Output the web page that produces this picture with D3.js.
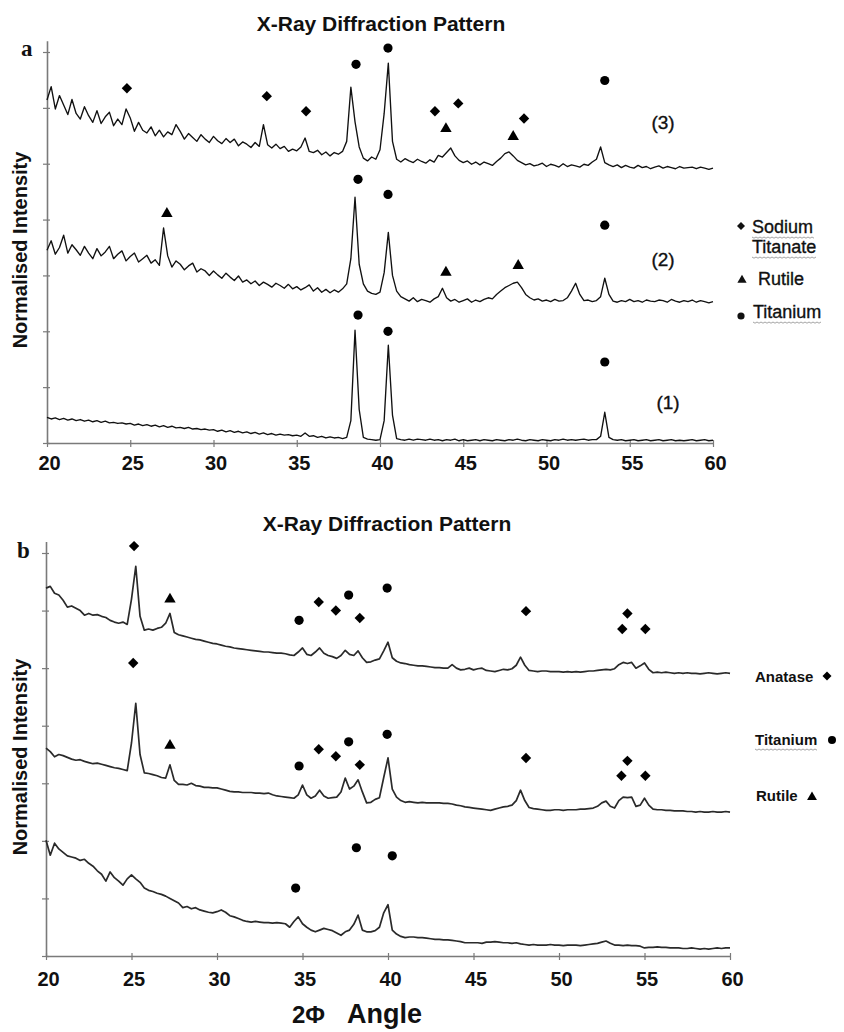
<!DOCTYPE html>
<html>
<head>
<meta charset="utf-8">
<script src="https://cdn.jsdelivr.net/npm/d3@7"></script>
<style>
  body { margin: 0; background: #fff; }
  svg { display: block; }
  text { font-family: "Liberation Sans", Arial, sans-serif; }
</style>
</head>
<body>
<script>
// X-ray diffraction patterns, panel a (sodium titanate) and panel b (anatase)

// angle grid shared by every trace: 20..60 deg in 0.25 deg steps
let angleStart = 20
let angleStep = 0.25
let xTicks = [20, 25, 30, 35, 40, 45, 50, 55, 60]
let yTicks = [0, 1, 2, 3, 4, 5, 6, 7]

// panel a, trace (1)
let a1 = [
  0.46,0.43,0.45,0.42, 0.44,0.41,0.43,0.40, 0.42,0.39,0.41,0.38, 0.40,0.37,0.39,0.36, 0.37,0.35,0.36,0.34,
  0.35,0.32,0.34,0.31, 0.33,0.30,0.32,0.29, 0.31,0.28,0.30,0.27, 0.28,0.26,0.28,0.25, 0.26,0.24,0.25,0.23,
  0.24,0.21,0.23,0.20, 0.22,0.19,0.21,0.18, 0.20,0.17,0.19,0.16, 0.18,0.15,0.17,0.14, 0.16,0.14,0.15,0.13,
  0.14,0.12,0.18,0.12, 0.13,0.10,0.12,0.09, 0.11,0.09,0.10,0.08, 0.10,0.40,2.02,0.60, 0.10,0.07,0.06,0.05,
  0.06,0.40,1.75,0.50, 0.08,0.06,0.05,0.07, 0.05,0.07,0.06,0.05, 0.07,0.05,0.06,0.04, 0.06,0.05,0.07,0.04,
  0.06,0.04,0.05,0.06, 0.04,0.06,0.05,0.04, 0.06,0.05,0.04,0.06, 0.05,0.07,0.05,0.04, 0.06,0.05,0.04,0.06,
  0.05,0.04,0.06,0.05, 0.07,0.05,0.06,0.05, 0.06,0.07,0.05,0.06, 0.06,0.12,0.55,0.10, 0.06,0.05,0.06,0.04,
  0.05,0.06,0.04,0.05, 0.06,0.04,0.05,0.06, 0.04,0.05,0.06,0.04, 0.05,0.04,0.05,0.06, 0.04,0.05,0.06,0.04,
  0.05
]
// panel a, trace (2)
let a2 = [
  3.45,3.62,3.38,3.50, 3.72,3.40,3.55,3.46, 3.36,3.52,3.40,3.30, 3.48,3.35,3.42,3.52, 3.30,3.38,3.44,3.26,
  3.34,3.40,3.24,3.30, 3.36,3.22,3.28,3.18, 3.85,3.35,3.15,3.26, 3.20,3.10,3.17,3.22, 3.06,3.12,3.08,3.00,
  3.08,3.01,2.95,3.04, 2.97,2.91,2.99,2.88, 2.92,2.85,2.90,2.82, 2.88,2.84,2.79,2.86, 2.82,2.77,2.84,2.76,
  2.80,2.74,2.78,2.83, 2.72,2.78,2.70,2.75, 2.69,2.74,2.70,2.76, 2.85,3.30,4.40,3.20, 2.85,2.72,2.68,2.66,
  2.70,3.05,3.77,3.00, 2.72,2.62,2.58,2.54, 2.60,2.53,2.57,2.55, 2.52,2.58,2.62,2.77, 2.60,2.54,2.57,2.52,
  2.55,2.58,2.52,2.56, 2.53,2.57,2.60,2.58, 2.66,2.72,2.78,2.82, 2.86,2.88,2.78,2.66, 2.60,2.56,2.58,2.54,
  2.56,2.53,2.57,2.54, 2.55,2.60,2.72,2.86, 2.66,2.55,2.56,2.53, 2.55,2.62,2.95,2.66, 2.54,2.52,2.55,2.53,
  2.57,2.53,2.55,2.52, 2.56,2.54,2.53,2.56, 2.55,2.52,2.57,2.54, 2.52,2.55,2.53,2.56, 2.52,2.55,2.53,2.51,
  2.53
]
// panel a, trace (3)
let a3 = [
  6.14,6.38,5.98,6.22, 6.05,5.88,6.15,5.90, 5.80,6.02,5.86,5.74, 5.95,5.72,5.84,5.92, 5.68,5.80,5.70,5.98,
  5.82,5.58,5.74,5.60, 5.55,5.66,5.50,5.60, 5.48,5.57,5.52,5.70, 5.58,5.44,5.54,5.47, 5.40,5.52,5.44,5.38,
  5.49,5.41,5.36,5.45, 5.38,5.44,5.32,5.39, 5.35,5.29,5.38,5.31, 5.70,5.34,5.28,5.35, 5.27,5.31,5.22,5.26,
  5.23,5.30,5.46,5.22, 5.20,5.24,5.16,5.21, 5.14,5.20,5.17,5.22, 5.40,6.37,5.75,5.30, 5.10,5.05,5.12,5.08,
  5.25,5.90,6.80,5.40, 5.08,5.03,5.09,5.05, 5.02,5.08,5.04,5.01, 5.07,5.03,5.15,5.12, 5.20,5.28,5.14,5.06,
  5.02,5.05,4.99,5.03, 4.98,5.03,5.00,4.97, 5.04,5.10,5.18,5.21, 5.14,5.06,5.02,4.98, 5.00,4.96,4.98,5.01,
  4.95,4.99,4.97,4.94, 5.00,4.95,4.98,4.96, 4.94,4.99,4.97,5.03, 5.08,5.30,5.02,4.98, 4.95,4.98,4.93,4.97,
  4.94,4.92,4.97,4.93, 4.95,4.91,4.94,4.96, 4.92,4.95,4.93,4.91, 4.95,4.92,4.93,4.94, 4.91,4.94,4.92,4.90,
  4.92
]

// panel b, lowest trace
let b1 = [
  2.01,1.75,1.96,1.86, 1.80,1.74,1.72,1.70, 1.66,1.68,1.61,1.56, 1.48,1.42,1.30,1.46, 1.36,1.30,1.23,1.34,
  1.41,1.34,1.28,1.18, 1.14,1.12,1.09,1.07, 1.04,1.00,0.96,0.92, 0.84,0.86,0.82,0.84, 0.80,0.78,0.76,0.75,
  0.77,0.80,0.76,0.70, 0.68,0.65,0.62,0.60, 0.59,0.60,0.59,0.58, 0.58,0.57,0.58,0.57, 0.56,0.50,0.60,0.68,
  0.56,0.50,0.45,0.42, 0.45,0.48,0.46,0.44, 0.40,0.36,0.42,0.45, 0.55,0.71,0.45,0.42, 0.42,0.44,0.50,0.75,
  0.89,0.45,0.38,0.34, 0.32,0.33,0.33,0.32, 0.32,0.31,0.30,0.29, 0.29,0.28,0.28,0.27, 0.26,0.25,0.23,0.23,
  0.23,0.23,0.22,0.24, 0.24,0.25,0.24,0.23, 0.23,0.22,0.23,0.21, 0.20,0.19,0.20,0.19, 0.19,0.19,0.20,0.19,
  0.19,0.18,0.19,0.19, 0.19,0.18,0.19,0.20, 0.21,0.22,0.24,0.26, 0.22,0.19,0.19,0.18, 0.19,0.18,0.18,0.17,
  0.14,0.15,0.15,0.16, 0.15,0.15,0.14,0.14, 0.14,0.13,0.13,0.14, 0.13,0.12,0.13,0.12, 0.13,0.14,0.13,0.14,
  0.14
]
// panel b, middle trace
let b2 = [
  3.61,3.55,3.46,3.50, 3.48,3.45,3.42,3.40, 3.41,3.38,3.36,3.34, 3.35,3.33,3.31,3.29, 3.27,3.26,3.24,3.22,
  3.70,4.39,3.50,3.18, 3.17,3.15,3.13,3.10, 3.09,3.32,3.05,2.98, 2.98,2.97,3.00,2.96, 2.95,2.93,2.93,2.92,
  2.92,2.90,2.88,2.86, 2.85,2.85,2.84,2.84, 2.84,2.83,2.83,2.82, 2.83,2.80,2.78,2.77, 2.76,2.75,2.74,2.80,
  2.97,2.80,2.74,2.78, 2.88,2.78,2.74,2.75, 2.76,2.85,3.09,2.90, 2.95,3.06,2.85,2.66, 2.67,2.72,2.75,3.10,
  3.44,2.90,2.76,2.70, 2.67,2.68,2.67,2.66, 2.67,2.66,2.66,2.66, 2.66,2.65,2.65,2.64, 2.62,2.61,2.59,2.58,
  2.57,2.56,2.55,2.54, 2.53,2.55,2.57,2.59, 2.60,2.62,2.70,2.88, 2.70,2.58,2.56,2.55, 2.54,2.53,2.53,2.54,
  2.54,2.53,2.54,2.54, 2.54,2.55,2.55,2.56, 2.57,2.60,2.66,2.69, 2.60,2.57,2.70,2.76, 2.75,2.76,2.60,2.62,
  2.74,2.62,2.55,2.54, 2.54,2.53,2.53,2.52, 2.52,2.52,2.51,2.51, 2.50,2.51,2.50,2.50, 2.51,2.50,2.50,2.51,
  2.50
]
// panel b, top trace
let b3 = [
  6.39,6.42,6.30,6.27, 6.18,6.06,6.08,6.04, 6.00,5.92,5.95,5.92, 5.93,5.90,5.88,5.83, 5.80,5.78,5.80,5.76,
  6.20,6.77,5.90,5.66, 5.68,5.66,5.69,5.71, 5.78,5.95,5.62,5.58, 5.56,5.54,5.52,5.50, 5.49,5.47,5.45,5.43,
  5.42,5.40,5.38,5.37, 5.35,5.34,5.33,5.32, 5.31,5.30,5.29,5.28, 5.28,5.27,5.26,5.26, 5.25,5.23,5.22,5.28,
  5.35,5.24,5.22,5.28, 5.35,5.26,5.22,5.20, 5.17,5.22,5.31,5.24, 5.22,5.30,5.18,5.10, 5.11,5.14,5.16,5.30,
  5.45,5.18,5.12,5.09, 5.08,5.06,5.05,5.04, 5.04,5.03,5.02,5.01, 5.01,5.00,5.00,5.06, 5.00,4.97,4.98,5.00,
  4.97,4.99,5.00,4.96, 4.95,4.94,4.96,4.98, 4.97,4.99,5.05,5.19, 5.05,4.96,4.95,4.94, 4.95,4.95,4.94,4.94,
  4.94,4.93,4.94,4.93, 4.94,4.93,4.94,4.95, 4.95,4.96,4.97,4.98, 4.97,4.99,5.06,5.10, 5.08,5.10,5.00,5.04,
  5.09,4.98,4.92,4.93, 4.92,4.93,4.92,4.91, 4.92,4.91,4.92,4.91, 4.91,4.90,4.91,4.92, 4.91,4.90,4.91,4.92,
  4.91
]

// peak markers [angle, level]
let aTitanate = [[24.8,6.35],[33.2,6.21],[35.56,5.94],[43.3,5.94],[44.7,6.08],[48.65,5.81]]
let aRutile = [[43.96,5.65],[48.0,5.51],[27.2,4.13],[43.96,3.08],[48.3,3.2]]
let aTitanium = [[38.56,6.78],[40.48,7.07],[53.5,6.49],[38.68,4.72],[40.48,4.45],[53.5,3.9],
                 [38.68,2.29],[40.48,2.0],[53.5,1.45]]

let bAnatase = [[25.15,7.12],[35.95,6.15],[36.95,6.0],[38.35,5.87],[48.07,5.99],[54.0,5.95],[53.7,5.68],[55.05,5.68],
                [25.1,5.09],[35.95,3.59],[36.95,3.47],[38.35,3.32],[48.07,3.44],[54.0,3.39],[53.65,3.13],[55.05,3.13]]
let bTitanium = [[34.8,5.83],[37.7,6.27],[39.95,6.39],[34.8,3.30],[37.7,3.72],[39.95,3.85],
                 [34.6,1.18],[38.15,1.88],[40.25,1.74]]
let bRutile = [[27.25,6.22],[27.25,3.68]]

// trace labels in panel a
let aTraceLabels = [['(3)', 57.0, 5.62], ['(2)', 57.0, 3.17], ['(1)', 57.3, 0.61]]

let axisColor = '#7a7a7a'

// marker paths, centred on 0,0
function shapePath(kind, s){
    if (kind == 'diamond') return `M0,${-s}L${s},0L0,${s}L${-s},0Z`
    if (kind == 'triangle') return `M0,${-s}L${s*1.1},${s*0.9}L${-s*1.1},${s*0.9}Z`
    return d3.symbol().type(d3.symbolCircle).size(Math.PI*s*s)()
}

// dotted "spell-check" squiggle under legend words
function squiggle(svg, x, y, w){
    let pts = d3.range(0, Math.floor(w/2)+1).map(i => [x + i*2, y + (i % 2 ? 1.2 : 0)])
    svg.append('path')
        .attr('d', d3.line()(pts))
        .attr('fill', 'none')
        .attr('stroke', '#9a9a9a')
        .attr('stroke-width', 0.9)
}

function drawPanel(svg, p){
    let unit = (p.bottom - p.top7) / 7
    let x = d3.scaleLinear().domain([20, 60]).range([p.left, p.right])
    let y = d3.scaleLinear().domain([0, 7.2]).range([p.bottom, p.bottom - 7.2*unit])

    // x axis, ticks crossing the line
    let gx = svg.append('g')
        .attr('transform', `translate(0,${y(0)})`)
        .call(d3.axisBottom(x).tickValues(xTicks).tickSizeInner(4).tickSizeOuter(0).tickPadding(p.tickPad))
    gx.select('.domain').attr('stroke', axisColor).attr('stroke-width', 1.6)
    gx.selectAll('.tick line').attr('y1', -3).attr('stroke', axisColor).attr('stroke-width', 1.2)
    gx.selectAll('.tick text')
        .attr('font-size', 20).attr('font-weight', 'bold').attr('fill', '#111')
        .attr('font-family', '"Liberation Sans", Arial, sans-serif')
        .attr('dx', 2)

    // y axis, no labels
    let gy = svg.append('g')
        .attr('transform', `translate(${x(20)},0)`)
        .call(d3.axisLeft(y).tickValues(yTicks).tickSizeInner(4).tickSizeOuter(0).tickFormat(''))
    gy.select('.domain').attr('stroke', axisColor).attr('stroke-width', 1.6)
    gy.selectAll('.tick line').attr('x1', 3).attr('stroke', axisColor).attr('stroke-width', 1.2)

    // traces
    let line = d3.line()
        .x((d, i) => x(angleStart + i*angleStep))
        .y(d => y(d))
    svg.append('g').selectAll('path')
        .data(p.traces)
        .enter()
        .append('path')
        .attr('d', d => line(d))
        .attr('fill', 'none')
        .attr('stroke', p.traceColor)
        .attr('stroke-width', p.traceWidth)
        .attr('stroke-linejoin', 'round')

    // peak markers
    p.marks.forEach(m => {
        svg.append('g').selectAll('path')
            .data(m.data)
            .enter()
            .append('path')
            .attr('d', shapePath(m.kind, m.size))
            .attr('transform', d => `translate(${x(d[0])},${y(d[1])})`)
            .attr('fill', '#000')
    })

    // title, panel letter, y label
    svg.append('text')
        .attr('x', p.titleX).attr('y', p.titleY)
        .attr('text-anchor', 'middle')
        .attr('font-size', 21).attr('font-weight', 'bold').attr('fill', '#111')
        .text('X-Ray Diffraction Pattern')
    svg.append('text')
        .attr('x', p.letterX).attr('y', p.letterY)
        .attr('font-size', 23).attr('font-weight', 'bold')
        .style('font-family', '"Liberation Serif", "Times New Roman", serif')
        .attr('fill', '#111')
        .text(p.letter)
    svg.append('text')
        .attr('transform', `translate(27,${p.yLabelY}) rotate(-90)`)
        .attr('text-anchor', 'middle')
        .attr('font-size', 20).attr('font-weight', 'bold').attr('fill', '#111')
        .text('Normalised Intensity')

    return {x: x, y: y}
}

function main(){
    let svg = d3.select('body')
        .append('svg')
        .attr('width', 844)
        .attr('height', 1032)

    svg.append('rect').attr('width', 844).attr('height', 1032).attr('fill', '#fff')

    // panel a
    let sa = drawPanel(svg, {
        left: 47, right: 713, bottom: 443, top7: 52, tickPad: 9,
        traces: [a1, a2, a3], traceColor: '#111', traceWidth: 1.35,
        marks: [
            {kind: 'diamond', size: 5.2, data: aTitanate},
            {kind: 'triangle', size: 5.2, data: aRutile},
            {kind: 'circle', size: 4.6, data: aTitanium}
        ],
        titleX: 381, titleY: 31, letter: 'a', letterX: 21, letterY: 56, yLabelY: 250
    })

    svg.append('g').selectAll('text')
        .data(aTraceLabels)
        .enter()
        .append('text')
        .attr('x', d => sa.x(d[1]))
        .attr('y', d => sa.y(d[2]))
        .attr('text-anchor', 'middle')
        .attr('font-size', 19).attr('fill', '#111')
        .attr('stroke', '#111').attr('stroke-width', 0.35)
        .text(d => d[0])

    // panel a legend (medium weight text)
    let legA = svg.append('g').attr('fill', '#111')
    let legText = (x, y, s) => legA.append('text').attr('x', x).attr('y', y)
        .attr('font-size', 18).attr('stroke', '#111').attr('stroke-width', 0.35).text(s)
    legA.append('path').attr('d', shapePath('diamond', 4)).attr('transform', 'translate(741,226)')
    legText(752, 233, 'Sodium')
    legText(752, 253, 'Titanate')
    legA.append('path').attr('d', shapePath('triangle', 4.2)).attr('transform', 'translate(742,279)')
    legText(758, 285, 'Rutile')
    legA.append('path').attr('d', shapePath('circle', 3.6)).attr('transform', 'translate(741,316)')
    legText(753, 318, 'Titanium')
    squiggle(svg, 752, 237, 62)
    squiggle(svg, 752, 257, 64)
    squiggle(svg, 753, 322, 69)

    // panel b
    drawPanel(svg, {
        left: 46, right: 730, bottom: 956, top7: 553, tickPad: 12,
        traces: [b1, b2, b3], traceColor: '#2a2a2a', traceWidth: 1.7,
        marks: [
            {kind: 'diamond', size: 5.2, data: bAnatase},
            {kind: 'triangle', size: 5.2, data: bRutile},
            {kind: 'circle', size: 4.6, data: bTitanium}
        ],
        titleX: 387, titleY: 531, letter: 'b', letterX: 17, letterY: 558, yLabelY: 757
    })

    // panel b legend
    let legB = svg.append('g')
    legB.append('text').attr('x', 755).attr('y', 682).attr('font-size', 15).attr('font-weight', 'bold').attr('fill', '#111').text('Anatase')
    legB.append('path').attr('d', shapePath('diamond', 4.5)).attr('transform', 'translate(827,676)')
    legB.append('text').attr('x', 755).attr('y', 745).attr('font-size', 15).attr('font-weight', 'bold').attr('fill', '#111').text('Titanium')
    legB.append('path').attr('d', shapePath('circle', 4)).attr('transform', 'translate(832,740)')
    legB.append('text').attr('x', 756).attr('y', 801).attr('font-size', 15).attr('font-weight', 'bold').attr('fill', '#111').text('Rutile')
    legB.append('path').attr('d', shapePath('triangle', 4.5)).attr('transform', 'translate(812,796)')
    squiggle(svg, 755, 749, 63)

    // x axis title
    let xt = svg.append('text').attr('y', 1023).attr('fill', '#111')
    xt.append('tspan').attr('x', 292).attr('font-size', 24).attr('font-weight', 'bold').text('2Φ')
    xt.append('tspan').attr('x', 347).attr('font-size', 27).attr('font-weight', 'bold').text('Angle')
}

main()
</script>
</body>
</html>
